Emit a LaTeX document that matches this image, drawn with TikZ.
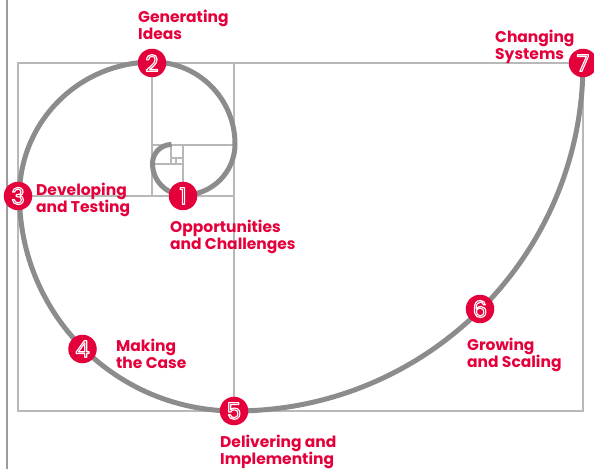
\documentclass[tikz,border=0pt]{standalone}
\usepackage{fontspec}
\setmainfont{Poppins}[BoldFont={* Bold}]
\newfontfamily\digitfont{Poppins}
\definecolor{spiralred}{HTML}{E4003A}
\definecolor{spiralgray}{HTML}{8C8C8C}
\definecolor{gridgray}{HTML}{B8B8B8}
\definecolor{railgray}{HTML}{9C9C9C}
% a numeral drawn as a white outline only (stroke text rendering mode)
\newcommand{\hollowdigit}[1]{{\color{white}%
  \special{pdf:literal direct 1 j 1 Tr 1.15 w}#1\special{pdf:literal direct 0 Tr}}}
\begin{document}
\begin{tikzpicture}[x=1pt,y=1pt,
  grid/.style={draw=gridgray,line width=1.1pt},
  spiral/.style={draw=spiralgray,line width=5pt},
  stage/.style={circle,fill=spiralred,minimum size=28.5pt,inner sep=0pt,
    font=\digitfont\fontsize{23}{23}\selectfont},
  caption/.style={anchor=base west,align=left,inner sep=0pt,text=spiralred,
    font=\bfseries\fontsize{15.5}{17}\selectfont}]
\useasboundingbox (0,0) rectangle (594,469);
% left rail
\draw[railgray,line width=1.2pt] (7,0) -- (7,469);
% golden rectangle and its nested squares
\draw[grid] (18,58) rectangle (583,406);
\draw[grid] (234,58) -- (234,406);
\draw[grid] (18,273) -- (234,273);
\draw[grid] (152,273) -- (152,406);
\draw[grid] (152,324) -- (234,324);
\draw[grid] (183,273) -- (183,324);
\draw[grid] (152,305) -- (183,305);
\draw[grid] (171,305) -- (171,324);
\draw[grid] (171,311) -- (183,311);
\draw[grid] (176,305) -- (176,311);
% the spiral, quarter arc by quarter arc
\draw[spiral] (583,406) arc[start angle=0,end angle=-90,radius=348]
  arc[start angle=-90,end angle=-180,radius=215.5]
  arc[start angle=180,end angle=90,radius=133.5]
  arc[start angle=90,end angle=0,radius=82]
  arc[start angle=0,end angle=-90,radius=51]
  arc[start angle=-90,end angle=-180,radius=31.5]
  arc[start angle=180,end angle=90,radius=19];
% numbered stages
\node[stage] (s1) at (183,273) {\hollowdigit{1}};
\node[stage] (s2) at (152,406) {\hollowdigit{2}};
\node[stage] (s3) at (18,273) {\hollowdigit{3}};
\node[stage] (s4) at (82.5,120) {\hollowdigit{4}};
\node[stage] (s5) at (234,58) {\hollowdigit{5}};
\node[stage] (s6) at (480,160) {\hollowdigit{6}};
\node[stage] (s7) at (583,406) {\hollowdigit{7}};
% stage captions (anchored at the baseline of their last line)
\node[caption] (t1) at (170,219) {Opportunities\\and Challenges};
\node[caption] (t2) at (138,429) {Generating\\Ideas};
\node[caption] (t3) at (36,256) {Developing\\and Testing};
\node[caption] (t4) at (116,101) {Making\\the Case};
\node[caption] (t5) at (220,5) {Delivering and\\Implementing};
\node[caption] (t6) at (467,102) {Growing\\and Scaling};
\node[caption] (t7) at (495,409) {Changing\\Systems};
\end{tikzpicture}
\end{document}
